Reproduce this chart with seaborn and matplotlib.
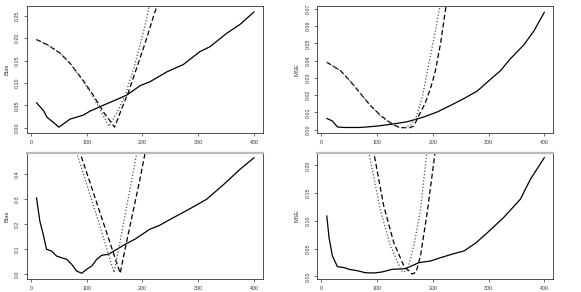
import numpy as np
import pandas as pd
import seaborn as sns
import matplotlib
matplotlib.use("Agg")
import matplotlib.pyplot as plt

# ---- top-left: Bias ----
tl_solid_x = [10, 23, 29, 41, 50, 58, 70, 94, 106, 124, 154, 172, 196, 214, 244, 273, 303, 321, 351, 375, 400]
tl_solid_y = [0.056, 0.037, 0.023, 0.011, 0.001, 0.008, 0.019, 0.028, 0.037, 0.047, 0.063, 0.073, 0.094,
              0.103, 0.125, 0.141, 0.170, 0.181, 0.211, 0.231, 0.259]
tl_dash_x = [10, 30, 53, 70, 94, 112, 130, 150, 162, 175, 190, 205, 220, 228]
tl_dash_y = [0.197, 0.185, 0.166, 0.144, 0.105, 0.072, 0.035, 0.001, 0.040, 0.080, 0.135, 0.190, 0.250, 0.280]
tl_dot_x = [10, 30, 53, 70, 94, 110, 125, 140, 155, 169, 185, 200, 214]
tl_dot_y = [0.197, 0.185, 0.166, 0.144, 0.103, 0.072, 0.038, 0.003, 0.035, 0.073, 0.135, 0.205, 0.280]

# ---- top-right: MSE ----
tr_solid_x = [10, 20, 29, 41, 70, 100, 124, 154, 184, 208, 232, 256, 280, 303, 321, 339, 363, 381, 400]
tr_solid_y = [0.0064, 0.005, 0.0015, 0.0012, 0.0012, 0.002, 0.003, 0.0045, 0.0073, 0.0102, 0.014, 0.018,
              0.0224, 0.029, 0.034, 0.041, 0.049, 0.057, 0.068]
tr_dash_x = [10, 35, 53, 70, 88, 106, 124, 140, 158, 166, 174, 186, 196, 204, 214, 224]
tr_dash_y = [0.039, 0.034, 0.0277, 0.021, 0.014, 0.0083, 0.0039, 0.0012, 0.001, 0.002, 0.0075, 0.015,
             0.024, 0.033, 0.050, 0.072]
tr_dot_x = [10, 35, 53, 70, 88, 106, 124, 140, 150, 160, 170, 182, 194, 204, 213]
tr_dot_y = [0.039, 0.034, 0.0277, 0.021, 0.014, 0.008, 0.0035, 0.001, 0.0012, 0.0025, 0.0068, 0.020,
            0.040, 0.056, 0.072]

# ---- bottom-left: Bias ----
bl_solid_x = [10, 16, 22, 28, 37, 46, 55, 64, 73, 82, 91, 100, 109, 118, 127, 139, 154, 169, 187, 213,
              230, 255, 285, 315, 345, 375, 400]
bl_solid_y = [0.306, 0.213, 0.160, 0.100, 0.093, 0.073, 0.066, 0.060, 0.040, 0.013, 0.004, 0.020, 0.033,
              0.060, 0.076, 0.080, 0.100, 0.120, 0.141, 0.180, 0.195, 0.226, 0.262, 0.300, 0.358, 0.420, 0.466]
bl_dash_x = [86, 106, 124, 142, 160, 171, 184, 195, 206]
bl_dash_y = [0.500, 0.366, 0.245, 0.125, 0.004, 0.125, 0.260, 0.375, 0.500]
bl_dot_x = [80, 100, 124, 149, 158, 175, 191]
bl_dot_y = [0.500, 0.360, 0.190, 0.007, 0.110, 0.310, 0.500]

# ---- bottom-right: MSE ----
br_solid_x = [10, 14, 20, 29, 41, 50, 65, 79, 95, 109, 127, 151, 175, 196, 214, 235, 256, 277, 298, 327,
              357, 375, 400]
br_solid_y = [0.109, 0.070, 0.037, 0.0174, 0.0157, 0.0126, 0.010, 0.0065, 0.006, 0.0078, 0.0126, 0.0137,
              0.0246, 0.0276, 0.0336, 0.040, 0.0457, 0.060, 0.0787, 0.106, 0.139, 0.175, 0.214]
br_dash_x = [93, 112, 130, 148, 163, 170, 178, 190, 205]
br_dash_y = [0.230, 0.127, 0.061, 0.019, 0.004, 0.0075, 0.037, 0.115, 0.230]
br_dot_x = [84, 106, 124, 145, 154, 166, 178, 190]
br_dot_y = [0.230, 0.120, 0.055, 0.008, 0.010, 0.055, 0.120, 0.230]

sns.set_theme(style="white")
plt.rcParams["font.family"] = ["Liberation Sans", "DejaVu Sans"]

fig = plt.figure(figsize=(5.81, 2.92), dpi=100)

W = 236 / 581
H_top = 127 / 292
H_bot = 126.6 / 292
panels = [
    dict(pos=[27 / 581, 1 - 133 / 292, W, H_top], ylim=(-0.012, 0.272),
         yticks=[0.00, 0.05, 0.10, 0.15, 0.20, 0.25], fmt="%.2f", ylabel="Bias",
         data=(tl_solid_x, tl_solid_y, tl_dash_x, tl_dash_y, tl_dot_x, tl_dot_y), gray_top=False),
    dict(pos=[317.3 / 581, 1 - 133 / 292, W, H_top], ylim=(-0.002, 0.0716),
         yticks=[0.00, 0.01, 0.02, 0.03, 0.04, 0.05, 0.06, 0.07], fmt="%.2f", ylabel="MSE",
         data=(tr_solid_x, tr_solid_y, tr_dash_x, tr_dash_y, tr_dot_x, tr_dot_y), gray_top=False),
    dict(pos=[27 / 581, 1 - 279.3 / 292, W, H_bot], ylim=(-0.02, 0.486),
         yticks=[0.0, 0.1, 0.2, 0.3, 0.4], fmt="%.1f", ylabel="Bias",
         data=(bl_solid_x, bl_solid_y, bl_dash_x, bl_dash_y, bl_dot_x, bl_dot_y), gray_top=True),
    dict(pos=[317.3 / 581, 1 - 279.3 / 292, W, H_bot], ylim=(-0.0054, 0.2228),
         yticks=[0.00, 0.05, 0.10, 0.15, 0.20], fmt="%.2f", ylabel="MSE",
         data=(br_solid_x, br_solid_y, br_dash_x, br_dash_y, br_dot_x, br_dot_y), gray_top=True),
]

for p in panels:
    ax = fig.add_axes(p["pos"])
    sx, sy, dx, dy, ox, oy = p["data"]
    sns.lineplot(x=sx, y=sy, ax=ax, color="black", linewidth=0.9)
    sns.lineplot(x=dx, y=dy, ax=ax, color="black", linewidth=0.9, linestyle=(0, (4, 2.2)))
    sns.lineplot(x=ox, y=oy, ax=ax, color="#555555", linewidth=0.9, linestyle=(0, (1, 1.6)))
    ax.set_xlim(-7, 416)
    ax.set_ylim(*p["ylim"])
    ax.set_xticks([0, 100, 200, 300, 400])
    ax.set_yticks(p["yticks"])
    ax.set_yticklabels([p["fmt"] % v for v in p["yticks"]], rotation=90, va="center")
    ax.tick_params(axis="both", which="both", direction="out", length=2.4, width=0.5,
                   color="#333333", labelsize=3.8, labelcolor="#333333", pad=2.5,
                   bottom=True, left=True)
    ax.set_ylabel(p["ylabel"], fontsize=4.2, color="#333333", labelpad=4)
    for s in ax.spines.values():
        s.set_color("#333333")
        s.set_linewidth(0.6)
    if p["gray_top"]:
        ax.spines["top"].set_color("#bbbbbb")
        ax.spines["top"].set_linewidth(1.6)
    ax.grid(False)

fig.savefig("out.png", dpi=100)
